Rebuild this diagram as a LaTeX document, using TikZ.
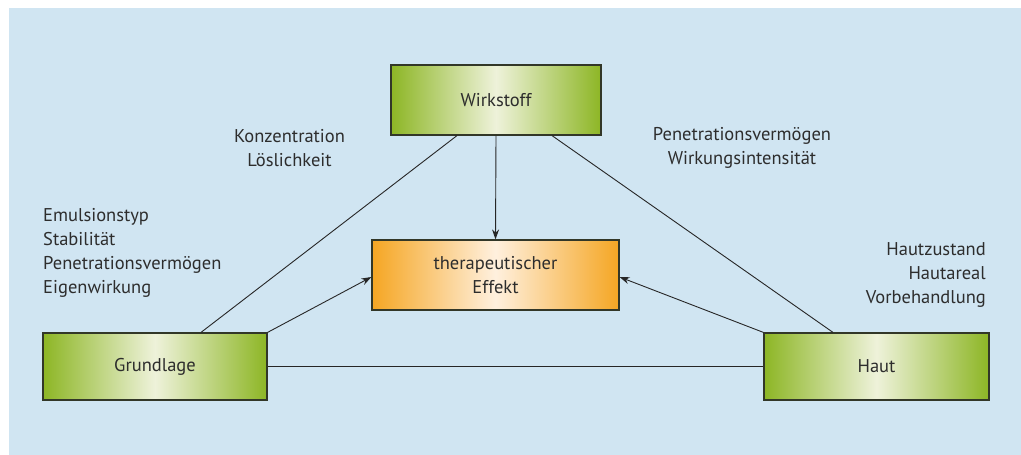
\documentclass[tikz,border=0pt]{standalone}
\usepackage{fontspec}
\setmainfont{PT Sans}
\usepackage{tikz}
\usetikzlibrary{arrows.meta}

\definecolor{bgblue}{RGB}{208,229,242}
\definecolor{leafdark}{RGB}{141,182,37}
\definecolor{leaflight}{RGB}{238,242,218}
\definecolor{orangedark}{RGB}{245,166,35}
\definecolor{orangelight}{RGB}{255,240,222}
\definecolor{framegray}{RGB}{50,55,40}
\definecolor{inkgray}{RGB}{45,45,45}

\tikzset{
  greenbox/.style={draw=framegray, line width=1.2pt, inner sep=0pt, text=inkgray,
    left color=leafdark, right color=leafdark, middle color=leaflight,
    minimum height=67pt, font=\fontsize{18.5}{22}\selectfont},
  orangebox/.style={draw=framegray, line width=1.2pt, inner sep=0pt, text=inkgray,
    left color=orangedark, right color=orangedark, middle color=orangelight,
    minimum width=247pt, minimum height=70pt, align=center,
    font=\fontsize{18.5}{24}\selectfont},
  notes/.style={inner sep=0pt, text=inkgray, font=\fontsize{18.5}{24}\selectfont},
  link/.style={draw=black!85, line width=0.9pt},
  push/.style={link, -{Stealth[length=10pt, width=7pt]}}
}

\begin{document}
\begin{tikzpicture}[x=1pt, y=-1pt]

% draw background
\useasboundingbox (0, 0) rectangle (1021, 455);
\fill[bgblue] (9, 8) rectangle (1021, 455);

% draw boxes
\node[greenbox, minimum width=210pt, minimum height=70pt] (wirkstoff) at (496, 100) {Wirkstoff};
\node[orangebox] (effekt) at (495.5, 275) {therapeutischer\\Effekt};
\node[greenbox, minimum width=224pt] (grundlage) at (155, 366.5) {Grundlage};
\node[greenbox, minimum width=225pt] (haut) at (876.5, 366.5) {Haut};

% draw triangle
\draw[link] ([xshift=46pt]grundlage.north) -- ([xshift=-39pt]wirkstoff.south);
\draw[link] ([xshift=-43.5pt]haut.north) -- ([xshift=56pt]wirkstoff.south);
\draw[link] (grundlage.east) -- (haut.west);

% draw arrows into the effect
\draw[push] (wirkstoff.south) -- (effekt.north);
\draw[push] (grundlage.north east) -- ([yshift=-2pt]effekt.west);
\draw[push] (haut.north west) -- ([yshift=-2pt]effekt.east);

% draw labels
\node[notes, align=center] (wirkstofftext) at (289.5, 148) {Konzentration\\Löslichkeit};
\node[notes, align=center] (hauttext) at (742, 148) {Penetrationsvermögen\\Wirkungsintensität};
\node[notes, align=left, anchor=west] (grundlagetext) at (43, 252.5) {Emulsionstyp\\Stabilität\\Penetrationsvermögen\\Eigenwirkung};
\node[notes, align=right, anchor=east] (zustandtext) at (986, 275) {Hautzustand\\Hautareal\\Vorbehandlung};

\end{tikzpicture}
\end{document}
